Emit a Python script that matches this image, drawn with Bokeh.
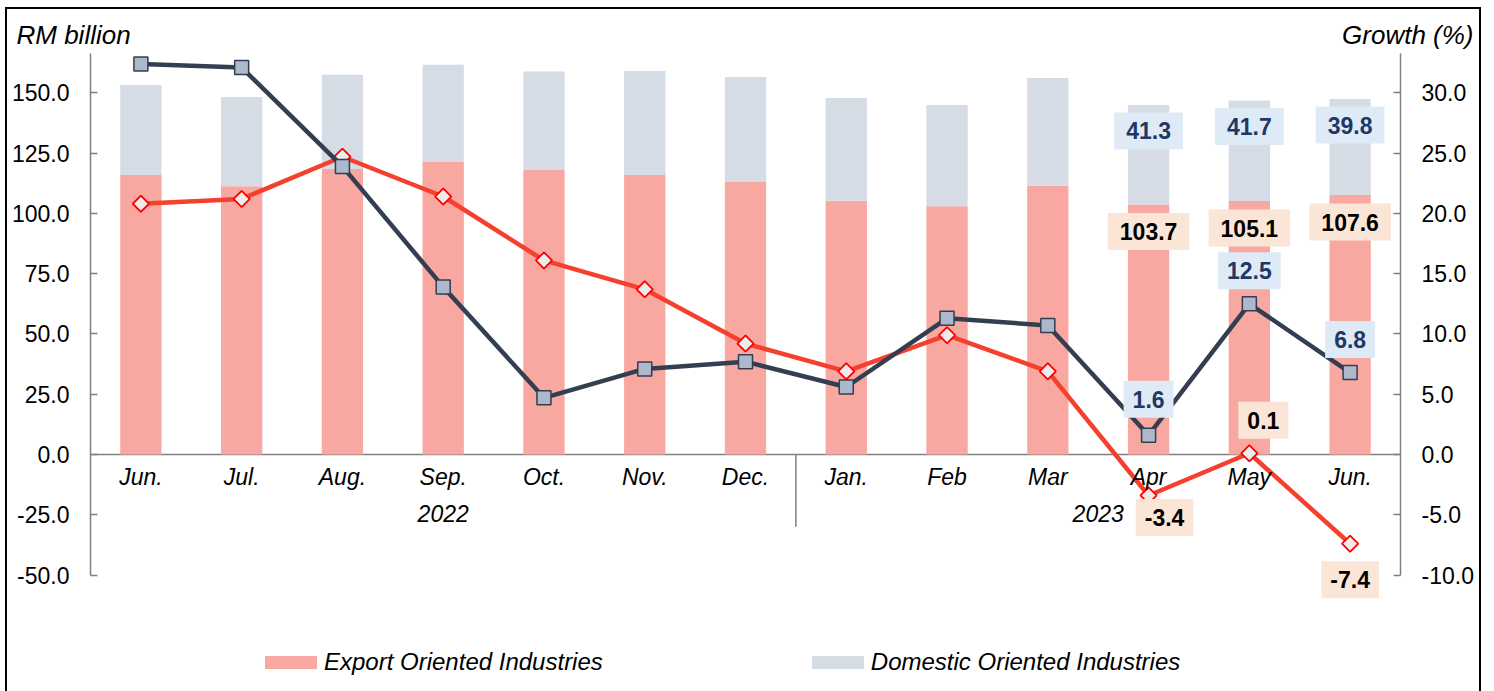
from bokeh.plotting import figure
from bokeh.models import (Range1d, LinearAxis, FixedTicker, NumeralTickFormatter,
                          Legend, LegendItem, ColumnDataSource)
from bokeh.core.properties import value
from bokeh.embed import file_html
from bokeh.resources import INLINE

# ---------------- data ----------------
months = ["Jun.", "Jul.", "Aug.", "Sep.", "Oct.", "Nov.", "Dec.",
          "Jan.", "Feb", "Mar", "Apr", "May", "Jun."]
years = ["2022"] * 7 + ["2023"] * 6
export = [115.9, 111.3, 118.4, 121.3, 118.0, 115.9, 113.0,
          105.2, 103.0, 111.5, 103.7, 105.1, 107.6]
domestic = [37.4, 37.0, 39.1, 40.3, 40.9, 43.2, 43.6,
            42.7, 42.0, 44.7, 41.3, 41.7, 39.8]
export_growth = [20.8, 21.2, 24.7, 21.4, 16.1, 13.7, 9.2,
                 6.9, 9.9, 6.9, -3.4, 0.1, -7.4]
domestic_growth = [32.4, 32.1, 23.9, 13.9, 4.7, 7.1, 7.7,
                   5.6, 11.3, 10.7, 1.6, 12.5, 6.8]
left_ticks = [-50, -25, 0, 25, 50, 75, 100, 125, 150]
right_ticks = [-10, -5, 0, 5, 10, 15, 20, 25, 30]
labelled = [10, 11, 12]  # months with data labels

# ---------------- styles / geometry ----------------
FONT = "Liberation Sans"
PINK = "#f9a8a1"
GREY = "#d6dce5"
NAVY = "#333f50"
SQFILL = "#adb9ca"
RED = "#f5402e"
BLUEBOX = "#deebf7"
ORANGEBOX = "#fbe5d6"
NAVYTXT = "#1f3864"
AXIS = "#808080"

W, H = 1472, 682                 # drawing area in px
AX_L, AX_R = 83, 1393            # plot-area left/right (px inside drawing area)
AX_T, AX_B, ZERO = 44, 566, 445  # plot-area top/bottom and zero line (px)
Y_MIN, Y_MAX = -50, 166.5
RATIO = 5.0                      # left units per growth unit

n = len(months)
xs = list(range(n))
ppx = (AX_R - AX_L) / n                       # px per category
ppy = (AX_B - AX_T) / (Y_MAX - Y_MIN)         # px per left unit
x0 = -0.5 - AX_L / ppx
x1 = n - 0.5 + (W - AX_R) / ppx
y1 = ZERO / ppy
y0 = -(H - ZERO) / ppy

src = ColumnDataSource(dict(x=xs, month=months, export=export, domestic=domestic,
                            eg=export_growth, dg=domestic_growth))

p = figure(x_range=Range1d(x0, x1), y_range=Range1d(y0, y1),
           frame_width=W, frame_height=H, output_backend="svg", toolbar_location=None,
           min_border=0, outline_line_color=None, background_fill_color="white",
           border_fill_color="white",
           styles={"margin": "7px 0px 0px 5px",
                   "border-left": "2px solid #000", "border-top": "2px solid #000",
                   "border-right": "2px solid #000"})
p.extra_y_ranges = {"g": Range1d(y0 / RATIO, y1 / RATIO)}
p.xaxis.visible = False
p.grid.visible = False

# axes
la = p.yaxis[0]
la.ticker = FixedTicker(ticks=left_ticks)
la.bounds = (Y_MIN, Y_MAX)
la.fixed_location = -0.5
ra = LinearAxis(y_range_name="g", ticker=FixedTicker(ticks=right_ticks),
                bounds=(Y_MIN / RATIO, Y_MAX / RATIO), fixed_location=n - 0.5)
p.add_layout(ra, "right")
for ax in (la, ra):
    ax.formatter = NumeralTickFormatter(format="0.0")
    ax.axis_line_color = AXIS
    ax.axis_line_width = 1.5
    ax.major_tick_line_color = AXIS
    ax.major_tick_line_width = 1.5
    ax.major_tick_in = 7
    ax.major_tick_out = 0
    ax.minor_tick_line_color = None
    ax.major_label_text_font = FONT
    ax.major_label_text_font_size = "23px"
    ax.major_label_text_color = "#000000"
    ax.major_label_standoff = 21

# zero line & year separator
n22 = years.count("2022")
p.segment(x0=[-0.5], y0=[0], x1=[n - 0.5], y1=[0], line_color=AXIS, line_width=1.5)
p.segment(x0=[n22 - 0.5], y0=[0], x1=[n22 - 0.5], y1=[-30], line_color=AXIS, line_width=1.5)

# bars
bars = p.vbar_stack(["export", "domestic"], x="x", width=0.41, color=[PINK, GREY],
                    line_color=None, source=src)

# lines
p.line("x", "eg", source=src, y_range_name="g", line_color=RED, line_width=4.5)
p.scatter("x", "eg", source=src, y_range_name="g", marker="square", angle=0.785398,
          size=11.5, fill_color="#ececec", line_color="#ff0000", line_width=1.8)
p.line("x", "dg", source=src, y_range_name="g", line_color=NAVY, line_width=4.5)
p.scatter("x", "dg", source=src, y_range_name="g", marker="square",
          size=14, fill_color=SQFILL, line_color=NAVY, line_width=1.5)

# month & year labels
p.text(x="x", y=0, text="month", source=src, y_offset=22, text_align="center",
       text_baseline="middle", text_font=value(FONT), text_font_size="23px",
       text_font_style="italic", text_color="#000000")
p.text(x=[(n22 - 1) / 2, n22 + (n - n22 - 1) / 2], y=[0, 0], text=["2022", "2023"],
       y_offset=59, text_align="center", text_baseline="middle", text_font=value(FONT),
       text_font_size="23px", text_font_style="italic", text_color="#000000")

# data labels
sel = lambda arr: [arr[i] for i in labelled]
lab_x = sel(xs)
tot = [export[i] + domestic[i] for i in labelled]
common = dict(text_align="center", text_baseline="middle", text_font=value(FONT),
              text_font_size="23px", text_font_style="bold")
p.text(x=lab_x, y=tot, text=[f"{v:.1f}" for v in sel(domestic)], y_offset=26,
       text_color=NAVYTXT, background_fill_color=BLUEBOX, padding=(12, 10), **common)
p.text(x=lab_x, y=sel(export), text=[f"{v:.1f}" for v in sel(export)], y_offset=27,
       text_color="#000000", background_fill_color=ORANGEBOX, padding=(12, 10), **common)
p.text(x=lab_x, y=sel(domestic_growth), text=[f"{v:.1f}" for v in sel(domestic_growth)],
       y_range_name="g", y_offset=[-36, -33, -33], text_color=NAVYTXT,
       background_fill_color=BLUEBOX, padding=(9, 10), **common)
p.text(x=lab_x, y=sel(export_growth), text=[f"{v:.1f}" for v in sel(export_growth)],
       y_range_name="g", x_offset=[16, 14, 0], y_offset=[22, -33, 36], text_color="#000000",
       background_fill_color=ORANGEBOX, padding=(9, 10), **common)

# axis titles
p.text(x=[-0.5], y=[Y_MAX], text=["RM billion"], x_offset=-74, y_offset=-18,
       text_align="left", text_baseline="middle", text_font=value(FONT),
       text_font_size="26px", text_font_style="italic", text_color="#000000")
p.text(x=[n - 0.5], y=[Y_MAX], text=["Growth (%)"], x_offset=73, y_offset=-18,
       text_align="right", text_baseline="middle", text_font=value(FONT),
       text_font_size="26px", text_font_style="italic", text_color="#000000")

# legend
legend = Legend(items=[LegendItem(label="Export Oriented Industries", renderers=[bars[0]]),
                       LegendItem(label="Domestic Oriented Industries", renderers=[bars[1]])],
                orientation="horizontal", location=(251, 15), spacing=202, label_standoff=1,
                glyph_width=65, glyph_height=16, label_text_font=FONT,
                label_text_font_size="24px", label_text_font_style="italic",
                label_text_color="#000000",
                border_line_color=None, background_fill_alpha=0, margin=0)
p.add_layout(legend, "center")

open("out.html", "w").write(file_html(p, INLINE))
